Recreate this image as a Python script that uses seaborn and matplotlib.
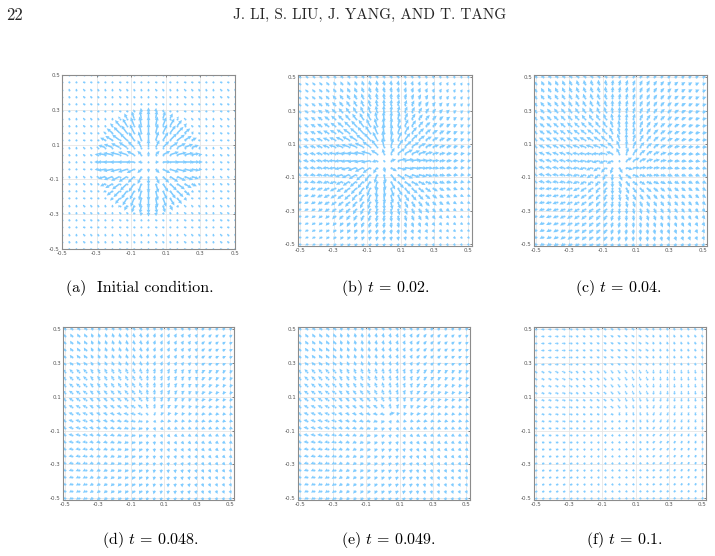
import numpy as np
import pandas as pd
import seaborn as sns
import matplotlib
matplotlib.use("Agg")
import matplotlib.pyplot as plt

# dados ----------------------------------------------------------------------------
grid_pts = np.linspace(-0.5, 0.5, 25)
tick_vals = [-0.5, -0.3, -0.1, 0.1, 0.3, 0.5]
tick_labels = ["-0.5", "-0.3", "-0.1", "0.1", "0.3", "0.5"]

captions = ["(a)  Initial condition.", r"(b) $t\,=\,0.02$.", r"(c) $t\,=\,0.04$.",
            r"(d) $t\,=\,0.048$.", r"(e) $t\,=\,0.049$.", r"(f) $t\,=\,0.1$."]

# centro do defeito em cada painel
core_x = [0.0, 0.0, 0.0, 0.02, 0.03, 0.0]
core_y = [0.0, 0.0, 0.0, -0.01, 0.0, 0.0]

# raios onde o comprimento (em espaçamentos da grade) e a torção (graus) foram lidos
ring_r = [0.0, 0.03, 0.08, 0.15, 0.22, 0.27, 0.31, 0.4, 0.5, 0.72]
len_a = [0.1, 0.3, 1.1, 1.35, 1.3, 1.0, 0.15, 0.15, 0.15, 0.15]
len_b = [0.1, 0.6, 1.3, 1.3, 1.15, 1.0, 0.9, 0.7, 0.5, 0.3]
len_c = [0.2, 0.9, 1.0, 0.9, 0.85, 0.8, 0.75, 0.7, 0.65, 0.5]
len_d = [0.1, 0.4, 0.5, 0.5, 0.5, 0.5, 0.5, 0.5, 0.5, 0.45]
len_e = [0.9, 0.5, 0.5, 0.5, 0.5, 0.5, 0.5, 0.5, 0.5, 0.45]
len_f = [0.3, 0.3, 0.3, 0.3, 0.3, 0.3, 0.3, 0.3, 0.3, 0.3]
tw_a = [0, 0, 0, 0, 0, 0, 0, 0, 0, 0]
tw_b = [15, 15, 12, 8, 5, 3, 0, 0, 0, 0]
tw_c = [35, 30, 25, 15, 8, 0, -5, -10, -15, -20]
tw_d = [10, 10, 5, 0, -5, -10, -12, -15, -15, -15]
tw_e = [10, 10, 5, 0, -5, -10, -12, -15, -15, -15]
tw_f = [45, 45, 45, 45, 45, 45, 45, 45, 45, 45]
lengths = [len_a, len_b, len_c, len_d, len_e, len_f]
twists = [tw_a, tw_b, tw_c, tw_d, tw_e, tw_f]

# posição dos eixos em pixels (esquerda, topo, direita, base)
boxes = [(62, 75, 235, 249), (298, 75, 472, 246), (534, 75, 707, 246),
         (63, 327, 234, 500), (298, 327, 470, 500), (534, 327, 706, 500)]
caption_x = [140, 385, 618, 150, 388, 624]
caption_y = [288, 288, 288, 540, 540, 540]

arrow_color = "#80CCFF"
W, H = 715, 556
h = grid_pts[1] - grid_pts[0]

sns.set_theme(style="whitegrid")
plt.rcParams["mathtext.fontset"] = "cm"

fig = plt.figure(figsize=(W / 100, H / 100), dpi=100)
fig.patch.set_facecolor("white")

X, Y = np.meshgrid(grid_pts, grid_pts)
for i in range(6):
    l, t, r, b = boxes[i]
    ax = fig.add_axes([l / W, 1 - b / H, (r - l) / W, (b - t) / H])
    dx = X - core_x[i]
    dy = Y - core_y[i]
    rad = np.hypot(dx, dy)
    ang = np.arctan2(dy, dx) + np.deg2rad(np.interp(rad, ring_r, twists[i]))
    mag = np.interp(rad, ring_r, lengths[i]) * h
    df = pd.DataFrame({"x": X.ravel(), "y": Y.ravel(),
                       "u": (mag * np.cos(ang)).ravel(), "v": (mag * np.sin(ang)).ravel()})
    sns.scatterplot(data=df, x="x", y="y", s=2, linewidth=0, color=arrow_color, ax=ax)
    ax.quiver(df["x"], df["y"], df["u"], df["v"], angles="xy", scale_units="xy", scale=1,
              pivot="tail", color=arrow_color, width=0.009, headwidth=2.5,
              headlength=2.5, headaxislength=2.2)
    if i == 0:
        ax.set_xlim(-0.5, 0.5)
        ax.set_ylim(-0.5, 0.5)
    else:
        ax.set_xlim(-0.512, 0.525)
        ax.set_ylim(-0.512, 0.514)
    ax.set_xticks(tick_vals)
    ax.set_yticks(tick_vals)
    ax.set_xticklabels(tick_labels)
    ax.set_yticklabels(tick_labels)
    ax.set_xlabel("")
    ax.set_ylabel("")
    ax.set_facecolor("white")
    ax.grid(True, color="#e6e6e6", linewidth=0.6)
    ax.tick_params(direction="in", length=1.5, width=0.5, pad=1.5, labelsize=4,
                   colors="#555555", top=True, right=True)
    for sp in ax.spines.values():
        sp.set_color("#8c8c8c")
        sp.set_linewidth(0.8)
    fig.text(caption_x[i] / W, 1 - caption_y[i] / H, captions[i], family="cmr10",
             fontsize=11.5, ha="center", va="center", color="black")

fig.text(6 / W, 1 - 15 / H, "22", family="cmr10", fontsize=12, ha="left", va="center")
fig.text(370 / W, 1 - 15 / H, "J. LI, S. LIU, J. YANG, AND T. TANG", family="cmr10",
         fontsize=11, ha="center", va="center")

fig.savefig("out.png", dpi=100)
